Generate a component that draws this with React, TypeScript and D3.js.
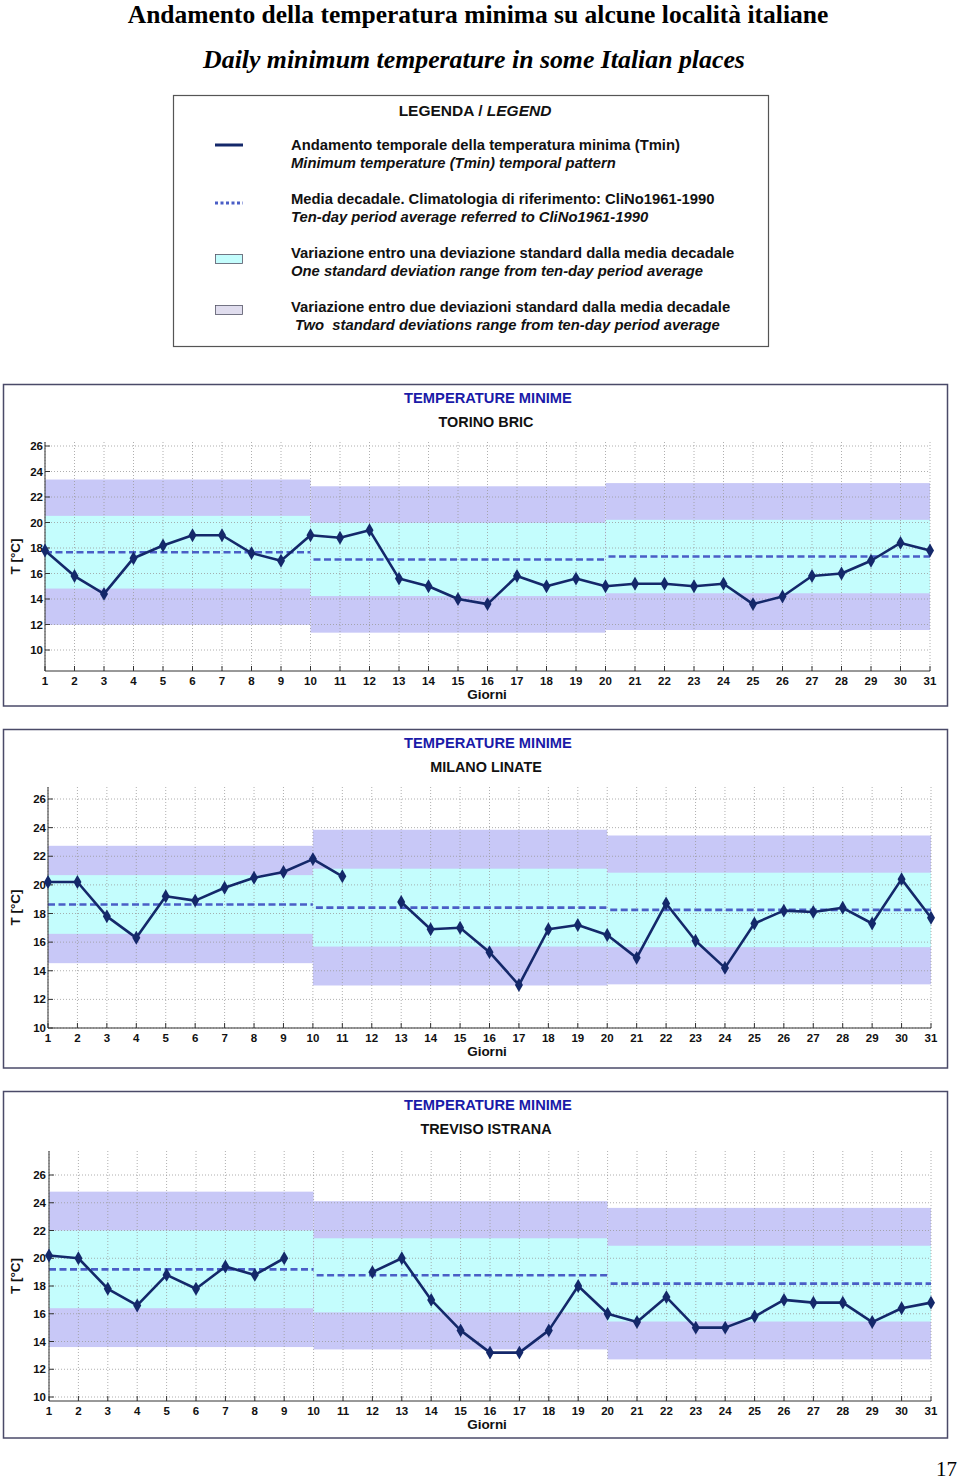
import React from "react";
import * as d3 from "d3";

const days = d3.range(1, 32);
const yTicks = [10, 12, 14, 16, 18, 20, 22, 24, 26];
const decadeStart = [1, 10, 20];
const decadeEnd = [10, 20, 31];

const torinoTmin: (number | null)[] = [17.8, 15.8, 14.4, 17.2, 18.2, 19.0, 19.0, 17.6, 17.0, 19.0, 18.8, 19.4, 15.6, 15.0, 14.0, 13.6, 15.8, 15.0, 15.6, 15.0, 15.2, 15.2, 15.0, 15.2, 13.6, 14.2, 15.8, 16.0, 17.0, 18.4, 17.8];
const torinoMean = [17.67, 17.1, 17.33];
const torinoSd = [2.85, 2.87, 2.88];

const milanoTmin: (number | null)[] = [20.2, 20.2, 17.8, 16.3, 19.2, 18.9, 19.8, 20.5, 20.9, 21.8, 20.6, null, 18.8, 16.9, 17.0, 15.3, 13.0, 16.9, 17.2, 16.5, 14.9, 18.7, 16.1, 14.2, 17.3, 18.2, 18.1, 18.4, 17.3, 20.4, 17.7];
const milanoMean = [18.63, 18.41, 18.25];
const milanoSd = [2.05, 2.72, 2.6];

const trevisoTmin: (number | null)[] = [20.2, 20.0, 17.8, 16.6, 18.8, 17.8, 19.4, 18.8, 20.0, null, null, 19.0, 20.0, 17.0, 14.8, 13.2, 13.2, 14.8, 18.0, 16.0, 15.4, 17.2, 15.0, 15.0, 15.8, 17.0, 16.8, 16.8, 15.4, 16.4, 16.8];
const trevisoMean = [19.2, 18.77, 18.17];
const trevisoSd = [2.8, 2.67, 2.73];

const legendItems = [
  ["Andamento temporale della temperatura minima (Tmin)", "Minimum temperature (Tmin) temporal pattern"],
  ["Media decadale. Climatologia di riferimento: CliNo1961-1990", "Ten-day period average referred to CliNo1961-1990"],
  ["Variazione entro una deviazione standard dalla media decadale", "One standard deviation range from ten-day period average"],
  ["Variazione entro due deviazioni standard dalla media decadale", " Two  standard deviations range from ten-day period average"],
];

const SANS = "'Liberation Sans', Arial, sans-serif";
const SERIF = "'Liberation Serif', 'Times New Roman', serif";
const C_LINE = "#14286a";
const C_MEAN = "#4a5ec6";
const C_SD1 = "#c4fdfd";
const C_SD2 = "#c8c8f7";

type PanelProps = {
  station: string;
  tmin: (number | null)[];
  mean: number[];
  sd: number[];
  boxTop: number;
  boxBottom: number;
  xRange: [number, number];
  yRange: [number, number]; // pixel for 10 and 26
  plotTopPx: number;
  axisPx: number;
  labelLeft: number;
};

function Panel(p: PanelProps) {
  const x = d3.scaleLinear().domain([1, 31]).range(p.xRange);
  const y = d3.scaleLinear().domain([10, 26]).range(p.yRange);
  const top = p.plotTopPx;
  const bottom = p.axisPx;
  const left = p.xRange[0];
  const right = p.xRange[1];
  const line = d3
    .line<number | null>()
    .defined((d) => d != null)
    .x((_, i) => x(days[i]))
    .y((d) => y(d as number));
  const diamond = d3.symbol().type(d3.symbolDiamond).size(56)();
  const titleY = p.boxTop + 13;
  const stationY = p.boxTop + 37;
  const cy = (top + bottom) / 2;
  return (
    <g>
      <rect x={3.5} y={p.boxTop} width={944} height={p.boxBottom - p.boxTop} fill="#fff" stroke="#4a4a68" strokeWidth={1.5} />
      <text x={488} y={titleY} textAnchor="middle" dominantBaseline="central" fontFamily={SANS} fontWeight="bold" fontSize={14.7} fill="#1a1aa8">
        TEMPERATURE MINIME
      </text>
      <text x={486} y={stationY} textAnchor="middle" dominantBaseline="central" fontFamily={SANS} fontWeight="bold" fontSize={14.4} fill="#111">
        {p.station}
      </text>
      {p.mean.map((m, i) => (
        <g key={"b" + i}>
          <rect x={x(decadeStart[i])} width={x(decadeEnd[i]) - x(decadeStart[i])} y={y(m + 2 * p.sd[i])} height={y(m - 2 * p.sd[i]) - y(m + 2 * p.sd[i])} fill={C_SD2} />
          <rect x={x(decadeStart[i])} width={x(decadeEnd[i]) - x(decadeStart[i])} y={y(m + p.sd[i])} height={y(m - p.sd[i]) - y(m + p.sd[i])} fill={C_SD1} />
        </g>
      ))}
      {days.map((d) => (
        <line key={"vg" + d} x1={x(d)} x2={x(d)} y1={top} y2={bottom} stroke="#9a9a9a" strokeWidth={0.8} strokeDasharray="1,2" />
      ))}
      {yTicks.map((t) => (
        <line key={"hg" + t} x1={left} x2={right} y1={y(t)} y2={y(t)} stroke="#9a9a9a" strokeWidth={0.8} strokeDasharray="1,2" />
      ))}
      {p.mean.map((m, i) => (
        <line key={"m" + i} x1={x(decadeStart[i]) + (i > 0 ? 3 : 0)} x2={x(decadeEnd[i])} y1={y(m)} y2={y(m)} stroke={C_MEAN} strokeWidth={2.6} strokeDasharray="7,3.5" />
      ))}
      <line x1={left} x2={left} y1={top} y2={bottom} stroke="#333" strokeWidth={1} />
      <line x1={left} x2={right} y1={bottom} y2={bottom} stroke="#333" strokeWidth={1} />
      {yTicks.map((t) => (
        <g key={"yt" + t}>
          <line x1={left} x2={left + 5} y1={y(t)} y2={y(t)} stroke="#333" />
          <text x={p.labelLeft} y={y(t)} textAnchor="end" dominantBaseline="central" fontFamily={SANS} fontWeight="bold" fontSize={11.5} fill="#111">
            {t}
          </text>
        </g>
      ))}
      {days.map((d) => (
        <g key={"xt" + d}>
          <line x1={x(d)} x2={x(d)} y1={bottom} y2={bottom - 5} stroke="#333" />
          <text x={x(d)} y={bottom + 10} textAnchor="middle" dominantBaseline="central" fontFamily={SANS} fontWeight="bold" fontSize={11.5} fill="#111">
            {d}
          </text>
        </g>
      ))}
      <text x={487} y={bottom + 23} textAnchor="middle" dominantBaseline="central" fontFamily={SANS} fontWeight="bold" fontSize={13.5} fill="#111">
        Giorni
      </text>
      <text transform={`translate(15,${cy}) rotate(-90)`} textAnchor="middle" dominantBaseline="central" fontFamily={SANS} fontWeight="bold" fontSize={13.5} fill="#111">
        T [°C]
      </text>
      <path d={line(p.tmin) || ""} fill="none" stroke={C_LINE} strokeWidth={2.6} strokeLinejoin="round" />
      {p.tmin.map((v, i) =>
        v == null ? null : <path key={"pt" + i} d={diamond || ""} transform={`translate(${x(days[i])},${y(v)})`} fill={C_LINE} />
      )}
    </g>
  );
}

export default function App() {
  const legendRows = [145, 199, 253, 307];
  return (
    <svg width={960} height={1480} style={{ display: "block", position: "absolute", left: 0, top: 0 }}>
      <rect width={960} height={1480} fill="#fff" />
      <text x={478} y={23} textAnchor="middle" fontFamily={SERIF} fontWeight="bold" fontSize={25.5}>
        Andamento della temperatura minima su alcune località italiane
      </text>
      <text x={474} y={59} textAnchor="middle" dominantBaseline="central" fontFamily={SERIF} fontWeight="bold" fontStyle="italic" fontSize={25.8}>
        Daily minimum temperature in some Italian places
      </text>
      <rect x={173.5} y={95.5} width={595} height={251} fill="#fff" stroke="#555" strokeWidth={1.2} />
      <text x={475} y={110} textAnchor="middle" dominantBaseline="central" fontFamily={SANS} fontWeight="bold" fontSize={15.5} fill="#111">
        LEGENDA / <tspan fontStyle="italic">LEGEND</tspan>
      </text>
      <line x1={215} x2={243} y1={145} y2={145} stroke={C_LINE} strokeWidth={3} />
      <line x1={215} x2={243} y1={203} y2={203} stroke={C_MEAN} strokeWidth={3} strokeDasharray="3,2.5" />
      <rect x={215.5} y={254.5} width={27} height={9} fill={C_SD1} stroke="#556" strokeWidth={0.8} />
      <rect x={215.5} y={305.5} width={27} height={9} fill="#e0ddee" stroke="#556" strokeWidth={0.8} />
      {legendItems.map((it, i) => (
        <g key={"lg" + i}>
          <text x={291} y={legendRows[i]} dominantBaseline="central" fontFamily={SANS} fontWeight="bold" fontSize={14.8} fill="#111">
            {it[0]}
          </text>
          <text x={291} y={legendRows[i] + 18} dominantBaseline="central" fontFamily={SANS} fontWeight="bold" fontStyle="italic" fontSize={14.8} fill="#111" style={{ whiteSpace: "pre" }}>
            {it[1]}
          </text>
        </g>
      ))}
      <Panel station="TORINO BRIC" tmin={torinoTmin} mean={torinoMean} sd={torinoSd} boxTop={384.5} boxBottom={706} xRange={[45, 930]} yRange={[650, 446]} plotTopPx={442} axisPx={671} labelLeft={43} />
      <Panel station="MILANO LINATE" tmin={milanoTmin} mean={milanoMean} sd={milanoSd} boxTop={729.5} boxBottom={1068} xRange={[48, 931]} yRange={[1028, 799]} plotTopPx={787} axisPx={1028} labelLeft={46} />
      <Panel station="TREVISO ISTRANA" tmin={trevisoTmin} mean={trevisoMean} sd={trevisoSd} boxTop={1091.5} boxBottom={1438} xRange={[49, 931]} yRange={[1397, 1175]} plotTopPx={1151} axisPx={1401} labelLeft={46} />
      <text x={957} y={1469} textAnchor="end" dominantBaseline="central" fontFamily={SERIF} fontSize={21}>
        17
      </text>
    </svg>
  );
}
